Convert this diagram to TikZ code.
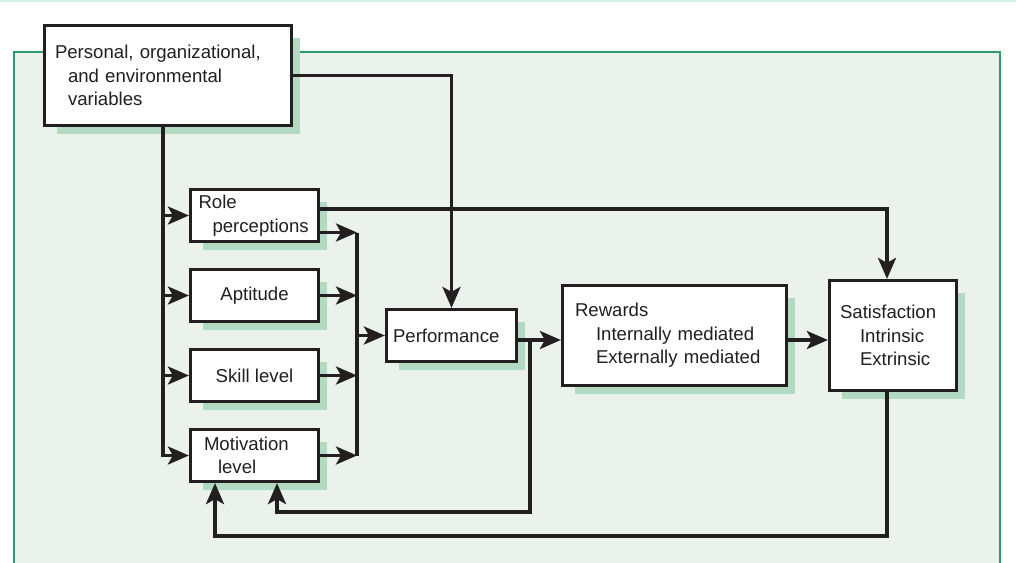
\documentclass[tikz,border=0pt]{standalone}
\usepackage{fontspec}
\setmainfont{Liberation Sans}
\usetikzlibrary{arrows.meta,calc}
\definecolor{ink}{HTML}{231F20}
\definecolor{panel}{HTML}{EAF2EB}
\definecolor{frameline}{HTML}{2E9C6A}
\definecolor{shadowgreen}{HTML}{B2D9C2}
\definecolor{topline}{HTML}{D3ECE5}
\pgfdeclarelayer{panelbg}
\pgfdeclarelayer{shadows}
\pgfsetlayers{panelbg,shadows,main}
\tikzset{
  box/.style={draw=ink, fill=white, line width=3.2pt, text=ink, inner ysep=0pt,
              font=\fontsize{18.6}{23.5}\selectfont},
  flow/.style={draw=ink, line width=3.4pt},
  arr/.style={flow, -{Stealth[length=21pt,width=18pt,inset=5pt]}}
}
% soft green drop shadow behind a box
\newcommand\castshadow[1]{%
  \begin{pgfonlayer}{shadows}
    \fill[shadowgreen] ($(#1.north west)+(14,14)$) rectangle ($(#1.south east)+(7,7)$);
  \end{pgfonlayer}}
\begin{document}
\begin{tikzpicture}[x=1pt,y=-1pt]
\useasboundingbox (0,0) rectangle (1016,562);

% panel
\begin{pgfonlayer}{panelbg}
  \fill[panel] (14,52) rectangle (1000,575);
  \draw[frameline, line width=2.5pt] (14,575) -- (14,52) -- (1000,52) -- (1000,575);
  \draw[topline, line width=2pt] (0,1) -- (1016,1);
\end{pgfonlayer}

% boxes
\node[box, minimum width=247, minimum height=100, text width=226, inner xsep=10.5, align=left]
  (vars) at (168,75.5) {Personal, organizational,\\\hspace*{13pt}and environmental\\\hspace*{13pt}variables};
\node[box, minimum width=128, minimum height=52, text width=112, inner xsep=8, align=left]
  (role) at (254.5,215.5) {Role\\\hspace*{14pt}perceptions};
\node[box, minimum width=128, minimum height=52, align=center]
  (apt) at (254.5,295.5) {Aptitude};
\node[box, minimum width=128, minimum height=52, align=center]
  (skill) at (254.5,375.5) {Skill level};
\node[box, minimum width=128, minimum height=52, text width=101, inner xsep=13.5, align=left]
  (motiv) at (254.5,455.5) {Motivation\\\hspace*{14pt}level};
\node[box, minimum width=130, minimum height=52, text width=117, inner xsep=6.5, align=left]
  (perf) at (451.5,335.5) {Performance};
\node[box, minimum width=224, minimum height=100, text width=199, inner xsep=12.5, align=left]
  (rew) at (674.5,335.5) {Rewards\\\hspace*{21pt}Internally mediated\\\hspace*{21pt}Externally mediated};
\node[box, minimum width=127, minimum height=110, text width=106, inner xsep=10.5, align=left]
  (sat) at (893,335.5) {Satisfaction\\\hspace*{20pt}Intrinsic\\\hspace*{20pt}Extrinsic};

\foreach \b in {vars,role,apt,skill,motiv,perf,rew,sat}{\castshadow{\b}}

% routing columns
\coordinate (trunk) at (163,0);
\coordinate (bar) at (357,0);
\coordinate (drop) at (530,512);
\coordinate (perfback) at (277,0);
\coordinate (loop) at (215,536);
\coordinate (roleHigh) at ($(role.east)+(0,-6.5)$);
\coordinate (roleLow) at ($(role.east)+(0,17)$);
\coordinate (satIn) at ($(sat.north)+(-6,0)$);
\coordinate (satOut) at ($(sat.south)+(-6,0)$);
\coordinate (perfOut) at ($(perf.east)+(0,4.5)$);
\coordinate (rewOut) at ($(rew.east)+(0,4.5)$);

% variables feed every input
\draw[arr] (vars.south -| trunk) |- (motiv.west);
\draw[arr] (role.west -| trunk) -- (role.west);
\draw[arr] (apt.west -| trunk) -- (apt.west);
\draw[arr] (skill.west -| trunk) -- (skill.west);
\draw[arr] (vars.east) -| (perf.north);

% inputs combine into performance
\draw[arr] (roleLow) -- (roleLow -| bar);
\draw[arr] (apt.east) -- (apt.east -| bar);
\draw[arr] (skill.east) -- (skill.east -| bar);
\draw[arr] (motiv.east) -- (motiv.east -| bar);
\draw[flow] (roleLow -| bar) -- (motiv.east -| bar);
\draw[arr] (perf.west -| bar) -- (perf.west);

% role perceptions to satisfaction
\draw[arr] (roleHigh) -| (satIn);

% main chain
\draw[arr] (perfOut) -- (perfOut -| rew.west);
\draw[arr] (rewOut) -- (rewOut -| sat.west);

% feedback loops
\draw[arr] (perfOut -| drop) -- (drop) -| (motiv.south -| perfback);
\draw[arr] (satOut) |- (loop) -- (motiv.south -| loop);
\end{tikzpicture}
\end{document}
